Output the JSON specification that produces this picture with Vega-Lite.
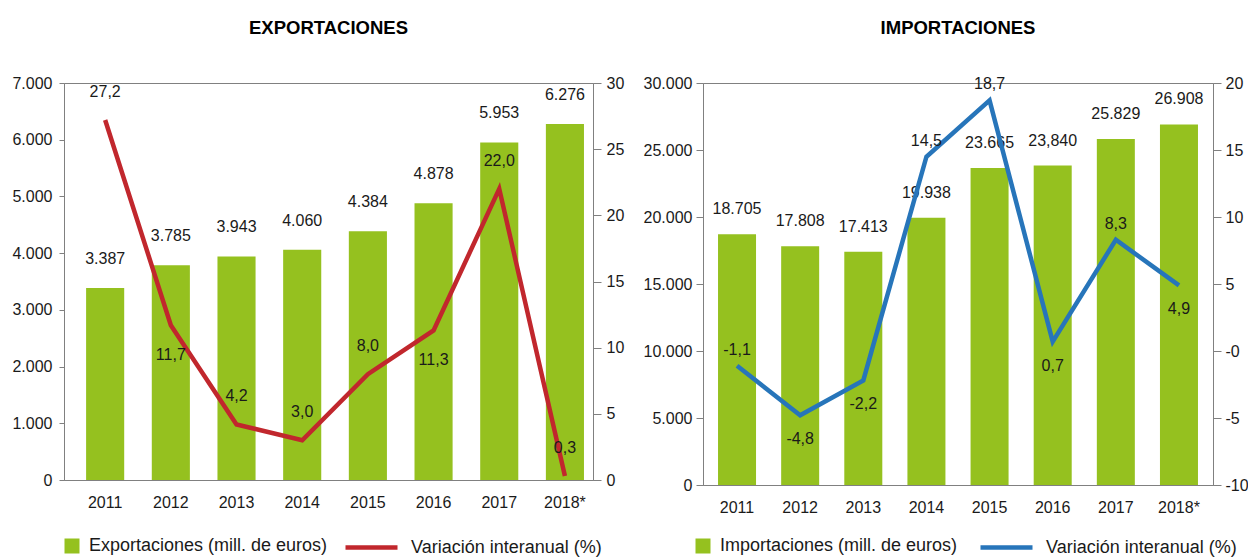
{
  "$schema": "https://vega.github.io/schema/vega-lite/v6.json",
  "padding": {"left": 11, "top": 18, "right": 0, "bottom": 0},
  "spacing": 17,
  "config": {
    "font": "Liberation Sans",
    "locale": {"number": {"decimal": ",", "thousands": ".", "grouping": [3], "currency": ["", " €"], "minus": "-"}},
    "view": {"stroke": "#808080", "strokeWidth": 1},
    "axis": {"domainColor": "#808080", "tickColor": "#808080", "labelColor": "#1a1a1a", "labelFontSize": 16, "grid": false, "title": null, "labelFont": "Liberation Sans"},
    "title": {"font": "Liberation Sans", "fontSize": 18.5, "fontWeight": "bold", "color": "#000000", "offset": 38},
    "legend": {"orient": "none", "direction": "horizontal", "title": null, "labelFontSize": 18, "labelColor": "#1a1a1a", "labelLimit": 400, "padding": 0}
  },
  "resolve": {"scale": {"fill": "independent", "stroke": "independent"}},
  "hconcat": [
    {
      "title": "EXPORTACIONES",
      "width": 529,
      "height": 397,
      "data": {"values": [
        {"anio": "2011", "valor": 3387, "etiqueta": "3.387", "variacion": 27.2},
        {"anio": "2012", "valor": 3785, "etiqueta": "3.785", "variacion": 11.7},
        {"anio": "2013", "valor": 3943, "etiqueta": "3.943", "variacion": 4.2},
        {"anio": "2014", "valor": 4060, "etiqueta": "4.060", "variacion": 3.0},
        {"anio": "2015", "valor": 4384, "etiqueta": "4.384", "variacion": 8.0},
        {"anio": "2016", "valor": 4878, "etiqueta": "4.878", "variacion": 11.3},
        {"anio": "2017", "valor": 5953, "etiqueta": "5.953", "variacion": 22.0},
        {"anio": "2018*", "valor": 6276, "etiqueta": "6.276", "variacion": 0.3}
      ]},
      "encoding": {
        "x": {"field": "anio", "type": "ordinal", "scale": {"paddingInner": 0.42, "paddingOuter": 0.237, "align": 0.71},
              "axis": {"labelAngle": 0, "ticks": false, "labelPadding": 14}}
      },
      "layer": [
        {
          "encoding": {
            "y": {"field": "valor", "type": "quantitative", "scale": {"domain": [0, 7000]},
                  "axis": {"values": [0, 1000, 2000, 3000, 4000, 5000, 6000, 7000], "format": ",d", "tickSize": 5, "labelPadding": 7}}
          },
          "layer": [
            {"mark": {"type": "bar", "color": "#95c11f"},
             "encoding": {"fill": {"datum": "Exportaciones (mill. de euros)", "scale": {"range": ["#95c11f"]},
               "legend": {"symbolType": "square", "symbolSize": 225, "symbolStrokeWidth": 0, "labelOffset": 8, "legendX": -1, "legendY": 454}}}},
            {"mark": {"type": "text", "dy": -29, "fontSize": 16, "color": "#1a1a1a"},
             "encoding": {"text": {"field": "etiqueta"}}}
          ]
        },
        {
          "encoding": {
            "y": {"field": "variacion", "type": "quantitative", "scale": {"domain": [0, 30]},
                  "axis": {"orient": "right", "values": [0, 5, 10, 15, 20, 25, 30], "tickSize": 8, "labelPadding": 5}}
          },
          "layer": [
            {"mark": {"type": "line", "strokeWidth": 4.5, "color": "#c1272d"},
             "encoding": {"stroke": {"datum": "Variación interanual (%)", "scale": {"range": ["#c1272d"]},
               "legend": {"symbolType": "stroke", "symbolSize": 2704, "symbolStrokeWidth": 4.5, "labelOffset": 11, "legendX": 279, "legendY": 436}}}},
            {"transform": [{"filter": {"field": "anio", "oneOf": ["2011", "2013", "2014", "2015", "2017", "2018*"]}}],
             "mark": {"type": "text", "dy": -28, "fontSize": 16, "color": "#1a1a1a"},
             "encoding": {"text": {"field": "variacion", "format": ",.1f"}}},
            {"transform": [{"filter": {"field": "anio", "oneOf": ["2012", "2016"]}}],
             "mark": {"type": "text", "dy": 30, "fontSize": 16, "color": "#1a1a1a"},
             "encoding": {"text": {"field": "variacion", "format": ",.1f"}}}
          ]
        }
      ],
      "resolve": {"scale": {"y": "independent"}}
    },
    {
      "title": "IMPORTACIONES",
      "width": 510,
      "height": 402,
      "data": {"values": [
        {"anio": "2011", "valor": 18705, "etiqueta": "18.705", "variacion": -1.1},
        {"anio": "2012", "valor": 17808, "etiqueta": "17.808", "variacion": -4.8},
        {"anio": "2013", "valor": 17413, "etiqueta": "17.413", "variacion": -2.2},
        {"anio": "2014", "valor": 19938, "etiqueta": "19.938", "variacion": 14.5},
        {"anio": "2015", "valor": 23665, "etiqueta": "23.665", "variacion": 18.7},
        {"anio": "2016", "valor": 23840, "etiqueta": "23,840", "variacion": 0.7},
        {"anio": "2017", "valor": 25829, "etiqueta": "25.829", "variacion": 8.3},
        {"anio": "2018*", "valor": 26908, "etiqueta": "26.908", "variacion": 4.9}
      ]},
      "encoding": {
        "x": {"field": "anio", "type": "ordinal", "scale": {"paddingInner": 0.398, "paddingOuter": 0.238},
              "axis": {"labelAngle": 0, "ticks": false, "labelPadding": 14}}
      },
      "layer": [
        {
          "encoding": {
            "y": {"field": "valor", "type": "quantitative", "scale": {"domain": [0, 30000]},
                  "axis": {"values": [0, 5000, 10000, 15000, 20000, 25000, 30000], "format": ",d", "tickSize": 7, "labelPadding": 4}}
          },
          "layer": [
            {"mark": {"type": "bar", "color": "#95c11f"},
             "encoding": {"fill": {"datum": "Importaciones (mill. de euros)", "scale": {"range": ["#95c11f"]},
               "legend": {"symbolType": "square", "symbolSize": 225, "symbolStrokeWidth": 0, "labelOffset": 8, "legendX": -9, "legendY": 454}}}},
            {"mark": {"type": "text", "dy": -25, "fontSize": 16, "color": "#1a1a1a"},
             "encoding": {"text": {"field": "etiqueta"}}}
          ]
        },
        {
          "encoding": {
            "y": {"field": "variacion", "type": "quantitative", "scale": {"domain": [-10, 20]},
                  "axis": {"orient": "right", "values": [-10, -5, 0, 5, 10, 15, 20], "tickSize": 8, "labelPadding": 4,
                           "labelExpr": "datum.value == 0 ? '-0' : datum.label"}}
          },
          "layer": [
            {"mark": {"type": "line", "strokeWidth": 4.5, "color": "#2775ba"},
             "encoding": {"stroke": {"datum": "Variación interanual (%)", "scale": {"range": ["#2775ba"]},
               "legend": {"symbolType": "stroke", "symbolSize": 2704, "symbolStrokeWidth": 4.5, "labelOffset": 11, "legendX": 275, "legendY": 436}}}},
            {"transform": [{"filter": {"field": "anio", "oneOf": ["2011", "2014", "2015", "2017"]}}],
             "mark": {"type": "text", "dy": -16, "fontSize": 16, "color": "#1a1a1a"},
             "encoding": {"text": {"field": "variacion", "format": ",.1f"}}},
            {"transform": [{"filter": {"field": "anio", "oneOf": ["2012", "2013", "2016", "2018*"]}}],
             "mark": {"type": "text", "dy": 24, "fontSize": 16, "color": "#1a1a1a"},
             "encoding": {"text": {"field": "variacion", "format": ",.1f"}}}
          ]
        }
      ],
      "resolve": {"scale": {"y": "independent"}}
    }
  ]
}
